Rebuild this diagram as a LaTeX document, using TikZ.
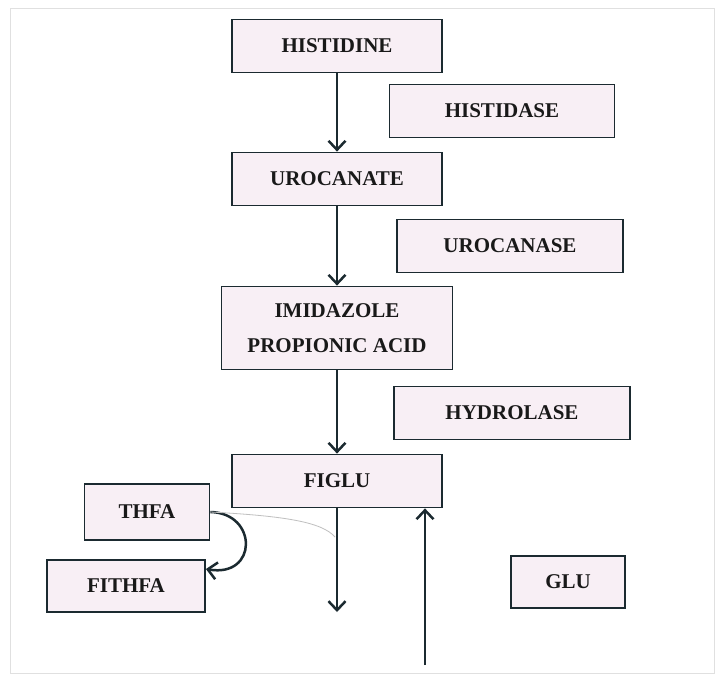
\documentclass[tikz,border=0pt]{standalone}
\usepackage{fontspec}
\setmainfont{Liberation Serif}
\usepackage{tikz}
\usetikzlibrary{arrows.meta,calc}
\definecolor{boxfill}{HTML}{F8EFF5}
\definecolor{ink}{HTML}{1B2A30}
\newcommand{\stepwidth}{210}

\begin{document}
\begin{tikzpicture}[x=1pt,y=-1pt,
	box/.style={draw=ink, line width=1.8pt, fill=boxfill, inner sep=0pt,
		minimum height=53pt, align=center, text=black!90,
		font=\fontsize{21}{35}\selectfont\bfseries},
	flow/.style={draw=ink, line width=2.5pt,
		-{Straight Barb[length=9pt,width=17pt,line width=2.5pt]}}]
	\useasboundingbox (0,0) rectangle (723,680);
	\fill[white] (0,0) rectangle (723,680);
	\draw[black!12, line width=1pt] (10,8) rectangle (714,673);

	% main chain
	\node[box, minimum width=\stepwidth] (his) at (337,46) {HISTIDINE};
	\node[box, minimum width=\stepwidth] (uro) at (337,179) {UROCANATE};
	\node[box, minimum width=231, minimum height=83] (imi) at (337,328) {IMIDAZOLE\\PROPIONIC ACID};
	\node[box, minimum width=\stepwidth] (fig) at (337,481) {FIGLU};

	% enzymes
	\node[box, minimum width=225] (hisase) at (502,111) {HISTIDASE};
	\node[box, minimum width=226] (uroase) at (510,246) {UROCANASE};
	\node[box, minimum width=236] (hyd) at (512,413) {HYDROLASE};

	% side products
	\node[box, minimum width=125, minimum height=56] (thfa) at (147,512) {THFA};
	\node[box, minimum width=158, minimum height=52] (fithfa) at (126,586) {FITHFA};
	\node[box, minimum width=114, minimum height=52] (glu) at (568,582) {GLU};

	\coordinate (out) at (337,612);
	\coordinate (in) at (425,665);
	\coordinate (mid) at (335,537);

	\draw[flow] (his) -- (uro);
	\draw[flow] (uro) -- (imi);
	\draw[flow] (imi) -- (fig);
	\draw[flow] (fig) -- (out);
	\draw[flow] (in) -- (fig.south -| in);
	\draw[flow] (thfa.east) .. controls (258,513) and (258,578) .. (fithfa.12);
	\draw[black!25, line width=0.8pt] (thfa.east) .. controls (285,516) and (322,522) .. (mid);
\end{tikzpicture}
\end{document}
